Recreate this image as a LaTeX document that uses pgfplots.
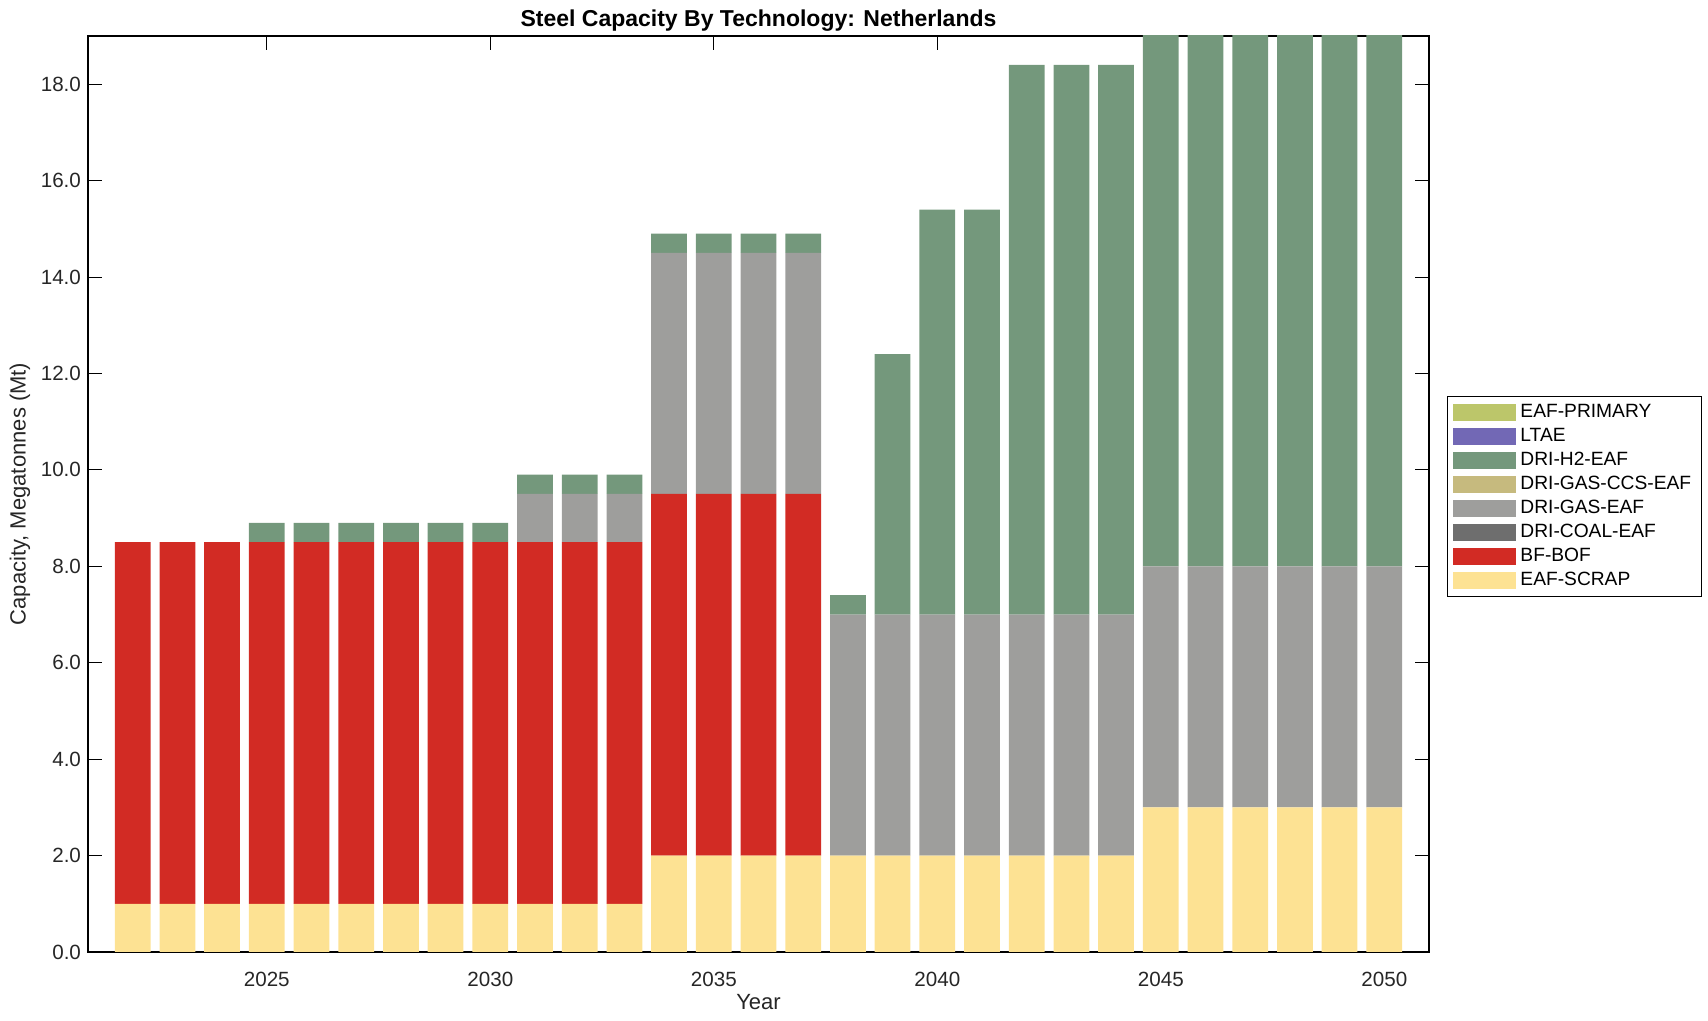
\documentclass[border=0pt]{standalone}
\usepackage{fontspec}
\setmainfont{Liberation Sans}
\usepackage{pgfplots}
\pgfplotsset{compat=1.18}
\definecolor{cprim}{HTML}{BCC66A}
\definecolor{cltae}{HTML}{7268B5}
\definecolor{chtwo}{HTML}{74987C}
\definecolor{cccs}{HTML}{C6BA7E}
\definecolor{cgas}{HTML}{9E9E9C}
\definecolor{ccoal}{HTML}{6E6E6E}
\definecolor{cbf}{HTML}{D22B24}
\definecolor{cscrap}{HTML}{FDE293}
\definecolor{txt}{HTML}{262626}
\begin{document}
\begin{tikzpicture}
\useasboundingbox (0,0) rectangle (854pt,510.5pt);
\begin{axis}[
  at={(44pt,34.5pt)}, anchor=south west,
  scale only axis, width=670.5pt, height=458pt,
  ybar stacked, bar width=0.8,
  xmin=2021, xmax=2051, ymin=0, ymax=19,
  xtick={2025,2030,...,2050},
  ytick={0,2,...,18},
  xticklabel style={/pgf/number format/1000 sep={}, yshift=-6.5pt},
  yticklabel style={/pgf/number format/.cd,fixed,fixed zerofill,precision=1},
  /pgf/number format/assume math mode=true,
  tick align=inside, major tick length=7pt,
  tick style={black, line width=0.5pt},
  axis line style={black, line width=0.6pt},
  ticklabel style={font=\fontsize{10.3}{11}\selectfont, text=txt},
  title={\textbf{Steel Capacity By Technology: Netherlands}},
  title style={at={(0.5,1)}, anchor=center, yshift=1.5pt, font=\fontsize{11.5}{13}\selectfont},
  xlabel={Year}, ylabel={Capacity, Megatonnes (Mt)},
  xlabel style={font=\fontsize{11}{12}\selectfont, text=txt, at={(0.5,0)}, anchor=center, yshift=-25pt},
  ylabel style={font=\fontsize{11}{12}\selectfont, text=txt, at={(0,0.5)}, anchor=center, yshift=34pt},
  reverse legend,
  legend style={at={(1.0134,0.607)}, anchor=north west, draw=black, line width=0.5pt,
    font=\fontsize{9.6}{11}\selectfont, inner xsep=3pt, inner ysep=2pt,
    row sep=-0.2pt, cells={anchor=west}},
  legend image code/.code={\fill[#1] (0pt,-4.25pt) rectangle (31.5pt,4.25pt);},
  every axis plot/.append style={draw=none},
]
% EAF-SCRAP
\addplot+[fill=cscrap] coordinates {
(2022,1)(2023,1)(2024,1)(2025,1)(2026,1)(2027,1)(2028,1)(2029,1)(2030,1)(2031,1)(2032,1)(2033,1)
(2034,2)(2035,2)(2036,2)(2037,2)(2038,2)(2039,2)(2040,2)(2041,2)(2042,2)(2043,2)(2044,2)
(2045,3)(2046,3)(2047,3)(2048,3)(2049,3)(2050,3)};
% BF-BOF
\addplot+[fill=cbf] coordinates {
(2022,7.5)(2023,7.5)(2024,7.5)(2025,7.5)(2026,7.5)(2027,7.5)(2028,7.5)(2029,7.5)(2030,7.5)(2031,7.5)(2032,7.5)(2033,7.5)
(2034,7.5)(2035,7.5)(2036,7.5)(2037,7.5)(2038,0)(2039,0)(2040,0)(2041,0)(2042,0)(2043,0)(2044,0)
(2045,0)(2046,0)(2047,0)(2048,0)(2049,0)(2050,0)};
% DRI-COAL-EAF
\addplot+[fill=ccoal] coordinates {
(2022,0)(2023,0)(2024,0)(2025,0)(2026,0)(2027,0)(2028,0)(2029,0)(2030,0)(2031,0)(2032,0)(2033,0)
(2034,0)(2035,0)(2036,0)(2037,0)(2038,0)(2039,0)(2040,0)(2041,0)(2042,0)(2043,0)(2044,0)
(2045,0)(2046,0)(2047,0)(2048,0)(2049,0)(2050,0)};
% DRI-GAS-EAF
\addplot+[fill=cgas] coordinates {
(2022,0)(2023,0)(2024,0)(2025,0)(2026,0)(2027,0)(2028,0)(2029,0)(2030,0)(2031,1)(2032,1)(2033,1)
(2034,5)(2035,5)(2036,5)(2037,5)(2038,5)(2039,5)(2040,5)(2041,5)(2042,5)(2043,5)(2044,5)
(2045,5)(2046,5)(2047,5)(2048,5)(2049,5)(2050,5)};
% DRI-GAS-CCS-EAF
\addplot+[fill=cccs] coordinates {
(2022,0)(2023,0)(2024,0)(2025,0)(2026,0)(2027,0)(2028,0)(2029,0)(2030,0)(2031,0)(2032,0)(2033,0)
(2034,0)(2035,0)(2036,0)(2037,0)(2038,0)(2039,0)(2040,0)(2041,0)(2042,0)(2043,0)(2044,0)
(2045,0)(2046,0)(2047,0)(2048,0)(2049,0)(2050,0)};
% DRI-H2-EAF
\addplot+[fill=chtwo] coordinates {
(2022,0)(2023,0)(2024,0)(2025,0.4)(2026,0.4)(2027,0.4)(2028,0.4)(2029,0.4)(2030,0.4)(2031,0.4)(2032,0.4)(2033,0.4)
(2034,0.4)(2035,0.4)(2036,0.4)(2037,0.4)(2038,0.4)(2039,5.4)(2040,8.4)(2041,8.4)(2042,11.4)(2043,11.4)(2044,11.4)
(2045,14.4)(2046,14.4)(2047,14.4)(2048,14.4)(2049,14.4)(2050,14.4)};
% LTAE
\addplot+[fill=cltae] coordinates {
(2022,0)(2023,0)(2024,0)(2025,0)(2026,0)(2027,0)(2028,0)(2029,0)(2030,0)(2031,0)(2032,0)(2033,0)
(2034,0)(2035,0)(2036,0)(2037,0)(2038,0)(2039,0)(2040,0)(2041,0)(2042,0)(2043,0)(2044,0)
(2045,0)(2046,0)(2047,0)(2048,0)(2049,0)(2050,0)};
% EAF-PRIMARY
\addplot+[fill=cprim] coordinates {
(2022,0)(2023,0)(2024,0)(2025,0)(2026,0)(2027,0)(2028,0)(2029,0)(2030,0)(2031,0)(2032,0)(2033,0)
(2034,0)(2035,0)(2036,0)(2037,0)(2038,0)(2039,0)(2040,0)(2041,0)(2042,0)(2043,0)(2044,0)
(2045,0)(2046,0)(2047,0)(2048,0)(2049,0)(2050,0)};
\legend{EAF-SCRAP,BF-BOF,DRI-COAL-EAF,DRI-GAS-EAF,DRI-GAS-CCS-EAF,DRI-H2-EAF,LTAE,EAF-PRIMARY}
\end{axis}
\end{tikzpicture}
\end{document}
